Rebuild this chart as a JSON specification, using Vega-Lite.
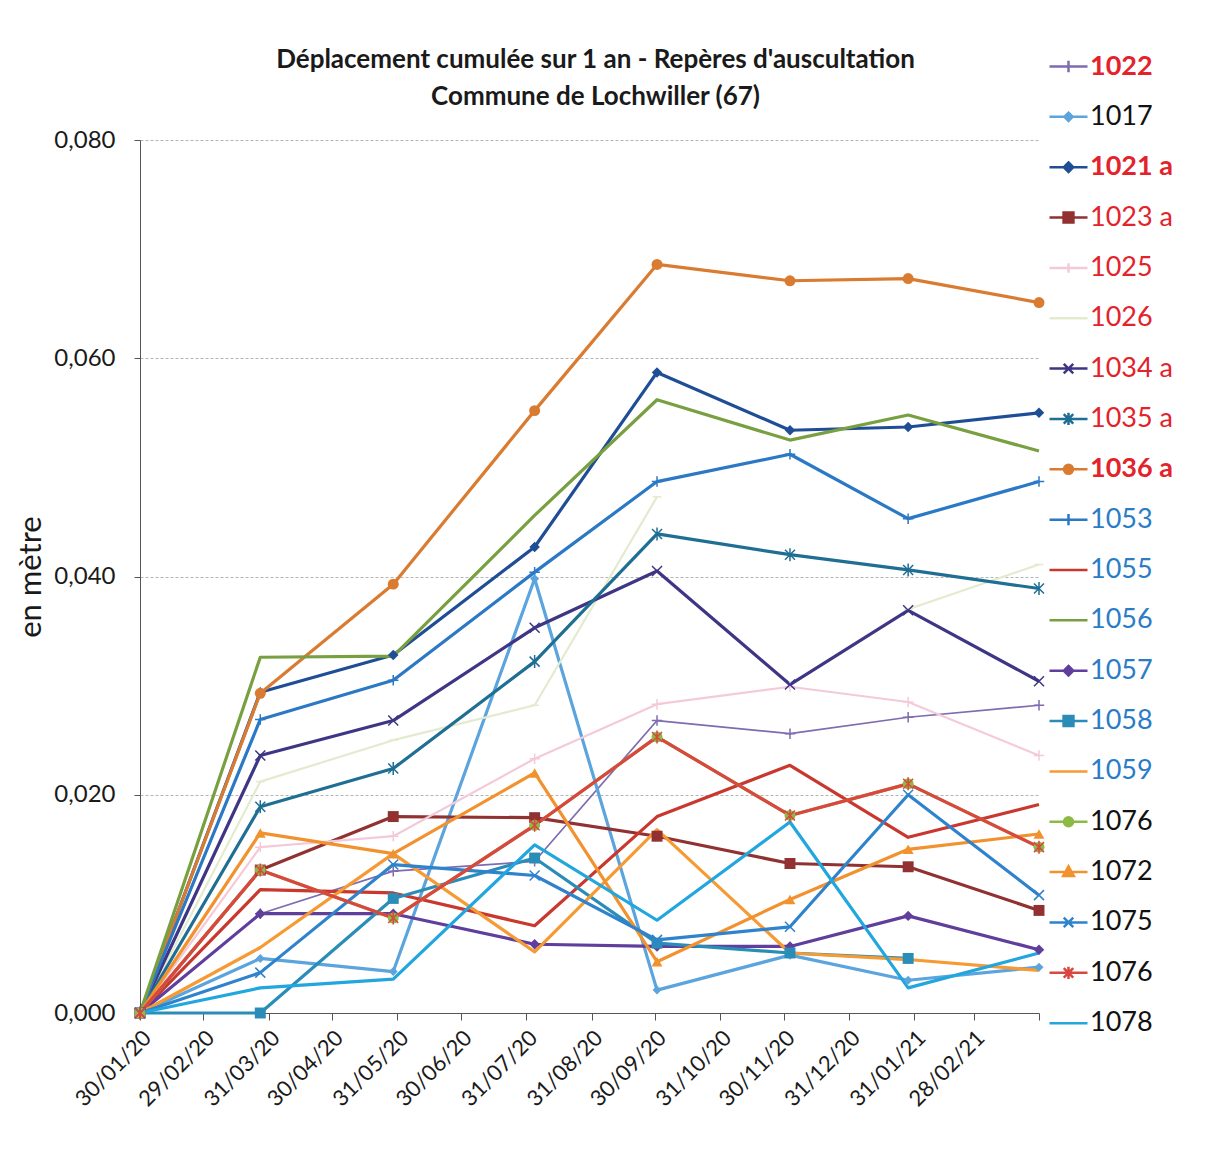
{
  "$schema": "https://vega.github.io/schema/vega-lite/v6.json",
  "width": 899,
  "height": 873,
  "autosize": {"type": "none"},
  "padding": {"left": 140, "top": 140, "right": 166, "bottom": 146},
  "background": "white",
  "config": {
    "font": "Lato",
    "locale": {"number": {"decimal": ",", "thousands": " ", "grouping": [3], "currency": ["", " €"]}},
    "view": {"stroke": null}
  },
  "title": {
    "text": ["Déplacement cumulée sur 1 an - Repères d'auscultation", "Commune de Lochwiller (67)"],
    "fontSize": 26,
    "fontWeight": "bold",
    "color": "#1a1a1a",
    "anchor": "middle",
    "lineHeight": 37,
    "offset": -64,
    "dx": 6
  },
  "data": {
    "values": [
      {"serie": "1022", "date": "2020-01-30T00:00:00", "valeur": 0},
      {"serie": "1022", "date": "2020-03-27T00:00:00", "valeur": 0.0091},
      {"serie": "1022", "date": "2020-05-29T00:00:00", "valeur": 0.0130},
      {"serie": "1022", "date": "2020-08-04T00:00:00", "valeur": 0.0139},
      {"serie": "1022", "date": "2020-10-01T00:00:00", "valeur": 0.0268},
      {"serie": "1022", "date": "2020-12-03T00:00:00", "valeur": 0.0256},
      {"serie": "1022", "date": "2021-01-28T00:00:00", "valeur": 0.0271},
      {"serie": "1022", "date": "2021-03-31T00:00:00", "valeur": 0.0282},

      {"serie": "1017", "date": "2020-01-30T00:00:00", "valeur": 0},
      {"serie": "1017", "date": "2020-03-27T00:00:00", "valeur": 0.0050},
      {"serie": "1017", "date": "2020-05-29T00:00:00", "valeur": 0.0038},
      {"serie": "1017", "date": "2020-08-04T00:00:00", "valeur": 0.0398},
      {"serie": "1017", "date": "2020-10-01T00:00:00", "valeur": 0.0021},
      {"serie": "1017", "date": "2020-12-03T00:00:00", "valeur": 0.0053},
      {"serie": "1017", "date": "2021-01-28T00:00:00", "valeur": 0.0030},
      {"serie": "1017", "date": "2021-03-31T00:00:00", "valeur": 0.0042},

      {"serie": "1021 a", "date": "2020-01-30T00:00:00", "valeur": 0},
      {"serie": "1021 a", "date": "2020-03-27T00:00:00", "valeur": 0.0294},
      {"serie": "1021 a", "date": "2020-05-29T00:00:00", "valeur": 0.0328},
      {"serie": "1021 a", "date": "2020-08-04T00:00:00", "valeur": 0.0427},
      {"serie": "1021 a", "date": "2020-10-01T00:00:00", "valeur": 0.0587},
      {"serie": "1021 a", "date": "2020-12-03T00:00:00", "valeur": 0.0534},
      {"serie": "1021 a", "date": "2021-01-28T00:00:00", "valeur": 0.0537},
      {"serie": "1021 a", "date": "2021-03-31T00:00:00", "valeur": 0.0550},

      {"serie": "1023 a", "date": "2020-01-30T00:00:00", "valeur": 0},
      {"serie": "1023 a", "date": "2020-03-27T00:00:00", "valeur": 0.0131},
      {"serie": "1023 a", "date": "2020-05-29T00:00:00", "valeur": 0.0180},
      {"serie": "1023 a", "date": "2020-08-04T00:00:00", "valeur": 0.0179},
      {"serie": "1023 a", "date": "2020-10-01T00:00:00", "valeur": 0.0162},
      {"serie": "1023 a", "date": "2020-12-03T00:00:00", "valeur": 0.0137},
      {"serie": "1023 a", "date": "2021-01-28T00:00:00", "valeur": 0.0134},
      {"serie": "1023 a", "date": "2021-03-31T00:00:00", "valeur": 0.0094},

      {"serie": "1025", "date": "2020-01-30T00:00:00", "valeur": 0},
      {"serie": "1025", "date": "2020-03-27T00:00:00", "valeur": 0.0152},
      {"serie": "1025", "date": "2020-05-29T00:00:00", "valeur": 0.0162},
      {"serie": "1025", "date": "2020-08-04T00:00:00", "valeur": 0.0233},
      {"serie": "1025", "date": "2020-10-01T00:00:00", "valeur": 0.0283},
      {"serie": "1025", "date": "2020-12-03T00:00:00", "valeur": 0.0299},
      {"serie": "1025", "date": "2021-01-28T00:00:00", "valeur": 0.0285},
      {"serie": "1025", "date": "2021-03-31T00:00:00", "valeur": 0.0236},

      {"serie": "1026", "date": "2020-01-30T00:00:00", "valeur": 0},
      {"serie": "1026", "date": "2020-03-27T00:00:00", "valeur": 0.0212},
      {"serie": "1026", "date": "2020-05-29T00:00:00", "valeur": 0.0250},
      {"serie": "1026", "date": "2020-08-04T00:00:00", "valeur": 0.0282},
      {"serie": "1026", "date": "2020-10-01T00:00:00", "valeur": 0.0473},
      {"serie": "1026", "date": "2020-12-03T00:00:00", "valeur": null},
      {"serie": "1026", "date": "2021-01-28T00:00:00", "valeur": 0.0370},
      {"serie": "1026", "date": "2021-03-31T00:00:00", "valeur": 0.0411},

      {"serie": "1034 a", "date": "2020-01-30T00:00:00", "valeur": 0},
      {"serie": "1034 a", "date": "2020-03-27T00:00:00", "valeur": 0.0236},
      {"serie": "1034 a", "date": "2020-05-29T00:00:00", "valeur": 0.0268},
      {"serie": "1034 a", "date": "2020-08-04T00:00:00", "valeur": 0.0353},
      {"serie": "1034 a", "date": "2020-10-01T00:00:00", "valeur": 0.0405},
      {"serie": "1034 a", "date": "2020-12-03T00:00:00", "valeur": 0.0301},
      {"serie": "1034 a", "date": "2021-01-28T00:00:00", "valeur": 0.0369},
      {"serie": "1034 a", "date": "2021-03-31T00:00:00", "valeur": 0.0304},

      {"serie": "1035 a", "date": "2020-01-30T00:00:00", "valeur": 0},
      {"serie": "1035 a", "date": "2020-03-27T00:00:00", "valeur": 0.0189},
      {"serie": "1035 a", "date": "2020-05-29T00:00:00", "valeur": 0.0224},
      {"serie": "1035 a", "date": "2020-08-04T00:00:00", "valeur": 0.0322},
      {"serie": "1035 a", "date": "2020-10-01T00:00:00", "valeur": 0.0439},
      {"serie": "1035 a", "date": "2020-12-03T00:00:00", "valeur": 0.0420},
      {"serie": "1035 a", "date": "2021-01-28T00:00:00", "valeur": 0.0406},
      {"serie": "1035 a", "date": "2021-03-31T00:00:00", "valeur": 0.0389},

      {"serie": "1036 a", "date": "2020-01-30T00:00:00", "valeur": 0},
      {"serie": "1036 a", "date": "2020-03-27T00:00:00", "valeur": 0.0293},
      {"serie": "1036 a", "date": "2020-05-29T00:00:00", "valeur": 0.0393},
      {"serie": "1036 a", "date": "2020-08-04T00:00:00", "valeur": 0.0552},
      {"serie": "1036 a", "date": "2020-10-01T00:00:00", "valeur": 0.0686},
      {"serie": "1036 a", "date": "2020-12-03T00:00:00", "valeur": 0.0671},
      {"serie": "1036 a", "date": "2021-01-28T00:00:00", "valeur": 0.0673},
      {"serie": "1036 a", "date": "2021-03-31T00:00:00", "valeur": 0.0651},

      {"serie": "1053", "date": "2020-01-30T00:00:00", "valeur": 0},
      {"serie": "1053", "date": "2020-03-27T00:00:00", "valeur": 0.0269},
      {"serie": "1053", "date": "2020-05-29T00:00:00", "valeur": 0.0305},
      {"serie": "1053", "date": "2020-08-04T00:00:00", "valeur": 0.0404},
      {"serie": "1053", "date": "2020-10-01T00:00:00", "valeur": 0.0487},
      {"serie": "1053", "date": "2020-12-03T00:00:00", "valeur": 0.0512},
      {"serie": "1053", "date": "2021-01-28T00:00:00", "valeur": 0.0453},
      {"serie": "1053", "date": "2021-03-31T00:00:00", "valeur": 0.0487},

      {"serie": "1055", "date": "2020-01-30T00:00:00", "valeur": 0},
      {"serie": "1055", "date": "2020-03-27T00:00:00", "valeur": 0.0113},
      {"serie": "1055", "date": "2020-05-29T00:00:00", "valeur": 0.0110},
      {"serie": "1055", "date": "2020-08-04T00:00:00", "valeur": 0.0080},
      {"serie": "1055", "date": "2020-10-01T00:00:00", "valeur": 0.0180},
      {"serie": "1055", "date": "2020-12-03T00:00:00", "valeur": 0.0227},
      {"serie": "1055", "date": "2021-01-28T00:00:00", "valeur": 0.0161},
      {"serie": "1055", "date": "2021-03-31T00:00:00", "valeur": 0.0191},

      {"serie": "1056", "date": "2020-01-30T00:00:00", "valeur": 0},
      {"serie": "1056", "date": "2020-03-27T00:00:00", "valeur": 0.0326},
      {"serie": "1056", "date": "2020-05-29T00:00:00", "valeur": 0.0327},
      {"serie": "1056", "date": "2020-08-04T00:00:00", "valeur": 0.0456},
      {"serie": "1056", "date": "2020-10-01T00:00:00", "valeur": 0.0562},
      {"serie": "1056", "date": "2020-12-03T00:00:00", "valeur": 0.0525},
      {"serie": "1056", "date": "2021-01-28T00:00:00", "valeur": 0.0548},
      {"serie": "1056", "date": "2021-03-31T00:00:00", "valeur": 0.0515},

      {"serie": "1057", "date": "2020-01-30T00:00:00", "valeur": 0},
      {"serie": "1057", "date": "2020-03-27T00:00:00", "valeur": 0.0091},
      {"serie": "1057", "date": "2020-05-29T00:00:00", "valeur": 0.0091},
      {"serie": "1057", "date": "2020-08-04T00:00:00", "valeur": 0.0063},
      {"serie": "1057", "date": "2020-10-01T00:00:00", "valeur": 0.0061},
      {"serie": "1057", "date": "2020-12-03T00:00:00", "valeur": 0.0061},
      {"serie": "1057", "date": "2021-01-28T00:00:00", "valeur": 0.0089},
      {"serie": "1057", "date": "2021-03-31T00:00:00", "valeur": 0.0058},

      {"serie": "1058", "date": "2020-01-30T00:00:00", "valeur": 0},
      {"serie": "1058", "date": "2020-03-27T00:00:00", "valeur": 0},
      {"serie": "1058", "date": "2020-05-29T00:00:00", "valeur": 0.0105},
      {"serie": "1058", "date": "2020-08-04T00:00:00", "valeur": 0.0142},
      {"serie": "1058", "date": "2020-10-01T00:00:00", "valeur": 0.0064},
      {"serie": "1058", "date": "2020-12-03T00:00:00", "valeur": 0.0055},
      {"serie": "1058", "date": "2021-01-28T00:00:00", "valeur": 0.0050},
      {"serie": "1058", "date": "2021-03-31T00:00:00", "valeur": null},

      {"serie": "1059", "date": "2020-01-30T00:00:00", "valeur": 0},
      {"serie": "1059", "date": "2020-03-27T00:00:00", "valeur": 0.0060},
      {"serie": "1059", "date": "2020-05-29T00:00:00", "valeur": 0.0146},
      {"serie": "1059", "date": "2020-08-04T00:00:00", "valeur": 0.0056},
      {"serie": "1059", "date": "2020-10-01T00:00:00", "valeur": 0.0168},
      {"serie": "1059", "date": "2020-12-03T00:00:00", "valeur": 0.0055},
      {"serie": "1059", "date": "2021-01-28T00:00:00", "valeur": 0.0049},
      {"serie": "1059", "date": "2021-03-31T00:00:00", "valeur": 0.0039},

      {"serie": "1076", "date": "2020-01-30T00:00:00", "valeur": 0},
      {"serie": "1076", "date": "2020-03-27T00:00:00", "valeur": 0.0131},
      {"serie": "1076", "date": "2020-05-29T00:00:00", "valeur": 0.0087},
      {"serie": "1076", "date": "2020-08-04T00:00:00", "valeur": 0.0172},
      {"serie": "1076", "date": "2020-10-01T00:00:00", "valeur": 0.0253},
      {"serie": "1076", "date": "2020-12-03T00:00:00", "valeur": 0.0181},
      {"serie": "1076", "date": "2021-01-28T00:00:00", "valeur": 0.0210},
      {"serie": "1076", "date": "2021-03-31T00:00:00", "valeur": 0.0152},

      {"serie": "1072", "date": "2020-01-30T00:00:00", "valeur": 0},
      {"serie": "1072", "date": "2020-03-27T00:00:00", "valeur": 0.0165},
      {"serie": "1072", "date": "2020-05-29T00:00:00", "valeur": 0.0146},
      {"serie": "1072", "date": "2020-08-04T00:00:00", "valeur": 0.0220},
      {"serie": "1072", "date": "2020-10-01T00:00:00", "valeur": 0.0047},
      {"serie": "1072", "date": "2020-12-03T00:00:00", "valeur": 0.0104},
      {"serie": "1072", "date": "2021-01-28T00:00:00", "valeur": 0.0150},
      {"serie": "1072", "date": "2021-03-31T00:00:00", "valeur": 0.0164},

      {"serie": "1075", "date": "2020-01-30T00:00:00", "valeur": 0},
      {"serie": "1075", "date": "2020-03-27T00:00:00", "valeur": 0.0037},
      {"serie": "1075", "date": "2020-05-29T00:00:00", "valeur": 0.0136},
      {"serie": "1075", "date": "2020-08-04T00:00:00", "valeur": 0.0126},
      {"serie": "1075", "date": "2020-10-01T00:00:00", "valeur": 0.0067},
      {"serie": "1075", "date": "2020-12-03T00:00:00", "valeur": 0.0079},
      {"serie": "1075", "date": "2021-01-28T00:00:00", "valeur": 0.0200},
      {"serie": "1075", "date": "2021-03-31T00:00:00", "valeur": 0.0108},

      {"serie": "1076 ", "date": "2020-01-30T00:00:00", "valeur": 0},
      {"serie": "1076 ", "date": "2020-03-27T00:00:00", "valeur": 0.0131},
      {"serie": "1076 ", "date": "2020-05-29T00:00:00", "valeur": 0.0087},
      {"serie": "1076 ", "date": "2020-08-04T00:00:00", "valeur": 0.0172},
      {"serie": "1076 ", "date": "2020-10-01T00:00:00", "valeur": 0.0253},
      {"serie": "1076 ", "date": "2020-12-03T00:00:00", "valeur": 0.0181},
      {"serie": "1076 ", "date": "2021-01-28T00:00:00", "valeur": 0.0210},
      {"serie": "1076 ", "date": "2021-03-31T00:00:00", "valeur": 0.0152},

      {"serie": "1078", "date": "2020-01-30T00:00:00", "valeur": 0},
      {"serie": "1078", "date": "2020-03-27T00:00:00", "valeur": 0.0023},
      {"serie": "1078", "date": "2020-05-29T00:00:00", "valeur": 0.0031},
      {"serie": "1078", "date": "2020-08-04T00:00:00", "valeur": 0.0154},
      {"serie": "1078", "date": "2020-10-01T00:00:00", "valeur": 0.0085},
      {"serie": "1078", "date": "2020-12-03T00:00:00", "valeur": 0.0175},
      {"serie": "1078", "date": "2021-01-28T00:00:00", "valeur": 0.0023},
      {"serie": "1078", "date": "2021-03-31T00:00:00", "valeur": 0.0055}
    ]
  },
  "encoding": {
    "x": {
      "field": "date",
      "type": "temporal",
      "scale": {"domain": [{"year": 2020, "month": 1, "date": 30}, {"year": 2021, "month": 3, "date": 31}]},
      "axis": {
        "title": null,
        "values": [
          {"year": 2020, "month": 1, "date": 30}, {"year": 2020, "month": 2, "date": 29},
          {"year": 2020, "month": 3, "date": 31}, {"year": 2020, "month": 4, "date": 30},
          {"year": 2020, "month": 5, "date": 31}, {"year": 2020, "month": 6, "date": 30},
          {"year": 2020, "month": 7, "date": 31}, {"year": 2020, "month": 8, "date": 31},
          {"year": 2020, "month": 9, "date": 30}, {"year": 2020, "month": 10, "date": 31},
          {"year": 2020, "month": 11, "date": 30}, {"year": 2020, "month": 12, "date": 31},
          {"year": 2021, "month": 1, "date": 31}, {"year": 2021, "month": 2, "date": 28},
          {"year": 2021, "month": 3, "date": 31}
        ],
        "labelExpr": "datum.value >= datetime(2021, 2, 30) ? '' : timeFormat(datum.value, '%d/%m/%y')",
        "labelAngle": -45,
        "labelFontSize": 22,
        "labelColor": "#1a1a1a",
        "labelPadding": 7,
        "labelOverlap": false,
        "labelBound": false,
        "labelFlush": false,
        "tickSize": 7,
        "tickColor": "#555555",
        "domainColor": "#555555",
        "grid": false
      }
    },
    "y": {
      "field": "valeur",
      "type": "quantitative",
      "scale": {"domain": [0, 0.08], "nice": false, "zero": true},
      "axis": {
        "title": "en mètre",
        "titleFontSize": 31,
        "titleFontWeight": "normal",
        "titleColor": "#1a1a1a",
        "titlePadding": 6,
        "values": [0, 0.02, 0.04, 0.06, 0.08],
        "format": ".3f",
        "labelFontSize": 24,
        "labelColor": "#1a1a1a",
        "labelPadding": 19,
        "tickSize": 6,
        "tickColor": "#555555",
        "domainColor": "#555555",
        "grid": true,
        "gridColor": "#b5b5b5",
        "gridDash": [3, 2],
        "gridWidth": 1
      }
    },
    "color": {
      "field": "serie",
      "type": "nominal",
      "sort": null,
      "scale": {
        "domain": ["1022", "1017", "1021 a", "1023 a", "1025", "1026", "1034 a", "1035 a", "1036 a", "1053", "1055", "1056", "1057", "1058", "1059", "1076", "1072", "1075", "1076 ", "1078"],
        "range": ["#7E6BB0", "#5BA4DD", "#1F4E96", "#923131", "#F4CADB", "#E3EBCF", "#3E3684", "#1F6E93", "#D97B30", "#2B78C5", "#C8382E", "#78A041", "#5F3E9C", "#2A8DB8", "#F69A33", "#8DBA45", "#F2922F", "#2F82CC", "#D9473F", "#22A6DE"]
      },
      "legend": {
        "title": null,
        "orient": "none",
        "legendX": 908,
        "legendY": -94,
        "labelFontSize": 27,
        "labelFont": "Lato",
        "labelOffset": 1,
        "symbolSize": 1444,
        "symbolStrokeWidth": 2.5,
        "rowPadding": 16.35,
        "labelLimit": 200,
        "encode": {
          "symbols": {
            "update": {
              "shape": {"signal": "['M-1,0H1M0,-0.3V0.3', 'M-1,0H1M0,-0.22L0.22,0L0,0.22L-0.22,0Z', 'M-1,0H1M0,-0.25L0.25,0L0,0.25L-0.25,0Z', 'M-1,0H1M-0.26,-0.26H0.26V0.26H-0.26Z', 'M-1,0H1M0,-0.25V0.25', 'M-1,0H1', 'M-1,0H1M-0.25,-0.25L0.25,0.25M-0.25,0.25L0.25,-0.25', 'M-1,0H1M-0.25,-0.25L0.25,0.25M-0.25,0.25L0.25,-0.25M0,-0.32V0.32', 'M-1,0H1M0.24,0A0.24,0.24,0,1,1,-0.24,0A0.24,0.24,0,1,1,0.24,0Z', 'M-1,0H1M0,-0.3V0.3', 'M-1,0H1', 'M-1,0H1', 'M-1,0H1M0,-0.25L0.25,0L0,0.25L-0.25,0Z', 'M-1,0H1M-0.26,-0.26H0.26V0.26H-0.26Z', 'M-1,0H1', 'M-1,0H1M0.24,0A0.24,0.24,0,1,1,-0.24,0A0.24,0.24,0,1,1,0.24,0Z', 'M-1,0H1M0,-0.3L0.28,0.2L-0.28,0.2Z', 'M-1,0H1M-0.25,-0.25L0.25,0.25M-0.25,0.25L0.25,-0.25', 'M-1,0H1M-0.25,-0.25L0.25,0.25M-0.25,0.25L0.25,-0.25M0,-0.32V0.32', 'M-1,0H1'][indexof(['1022', '1017', '1021 a', '1023 a', '1025', '1026', '1034 a', '1035 a', '1036 a', '1053', '1055', '1056', '1057', '1058', '1059', '1076', '1072', '1075', '1076 ', '1078'], datum.value)]"},
              "fill": {"scale": "color", "field": "value"},
              "stroke": {"scale": "color", "field": "value"},
              "opacity": {"value": 1}
            }
          },
          "labels": {
            "update": {
              "fill": {"signal": "indexof(['1022', '1021 a', '1023 a', '1025', '1026', '1034 a', '1035 a', '1036 a'], datum.value) >= 0 ? '#E3222B' : (indexof(['1053', '1055', '1056', '1057', '1058', '1059'], datum.value) >= 0 ? '#2A7CC7' : '#111111')"},
              "fontWeight": {"signal": "indexof(['1022', '1021 a', '1036 a'], datum.value) >= 0 ? 'bold' : 'normal'"}
            }
          }
        }
      }
    }
  },
  "layer": [
    {
      "mark": {"type": "line", "invalid": "break-paths-show-domains", "strokeJoin": "round"},
      "encoding": {
        "strokeWidth": {
          "condition": [
            {"test": "datum.serie === '1022'", "value": 1.7},
            {"test": "datum.serie === '1025' || datum.serie === '1026'", "value": 2.2}
          ],
          "value": 3.2
        }
      }
    },
    {
      "transform": [{"filter": {"field": "serie", "oneOf": ["1022", "1025", "1053"]}}],
      "mark": {"type": "point", "shape": "M-1,0H1M0,-1V1", "filled": false, "size": 110, "strokeWidth": 1.5, "opacity": 1}
    },
    {
      "transform": [{"filter": {"field": "serie", "oneOf": ["1026"]}}, {"filter": "isValid(datum.valeur)"}],
      "mark": {"type": "point", "shape": "M-1,0H1", "filled": false, "size": 80, "strokeWidth": 1.5, "opacity": 1}
    },
    {
      "transform": [{"filter": {"field": "serie", "oneOf": ["1017"]}}],
      "mark": {"type": "point", "shape": "diamond", "filled": true, "size": 80, "opacity": 1}
    },
    {
      "transform": [{"filter": {"field": "serie", "oneOf": ["1021 a", "1057"]}}],
      "mark": {"type": "point", "shape": "diamond", "filled": true, "size": 110, "opacity": 1}
    },
    {
      "transform": [{"filter": {"field": "serie", "oneOf": ["1023 a", "1058"]}}, {"filter": "isValid(datum.valeur)"}],
      "mark": {"type": "point", "shape": "square", "filled": true, "size": 120, "opacity": 1}
    },
    {
      "transform": [{"filter": {"field": "serie", "oneOf": ["1034 a", "1075"]}}],
      "mark": {"type": "point", "shape": "M-1,-1L1,1M-1,1L1,-1", "filled": false, "size": 100, "strokeWidth": 1.5, "opacity": 1}
    },
    {
      "transform": [{"filter": {"field": "serie", "oneOf": ["1036 a", "1076"]}}],
      "mark": {"type": "point", "shape": "circle", "filled": true, "size": 120, "opacity": 1}
    },
    {
      "transform": [{"filter": {"field": "serie", "oneOf": ["1072"]}}],
      "mark": {"type": "point", "shape": "triangle-up", "filled": true, "size": 120, "opacity": 1}
    },
    {
      "transform": [{"filter": {"field": "serie", "oneOf": ["1035 a", "1076 "]}}],
      "mark": {"type": "point", "shape": "M-1,-1L1,1M-1,1L1,-1M0,-1.3V1.3", "filled": false, "size": 100, "strokeWidth": 1.5, "opacity": 1}
    }
  ]
}
